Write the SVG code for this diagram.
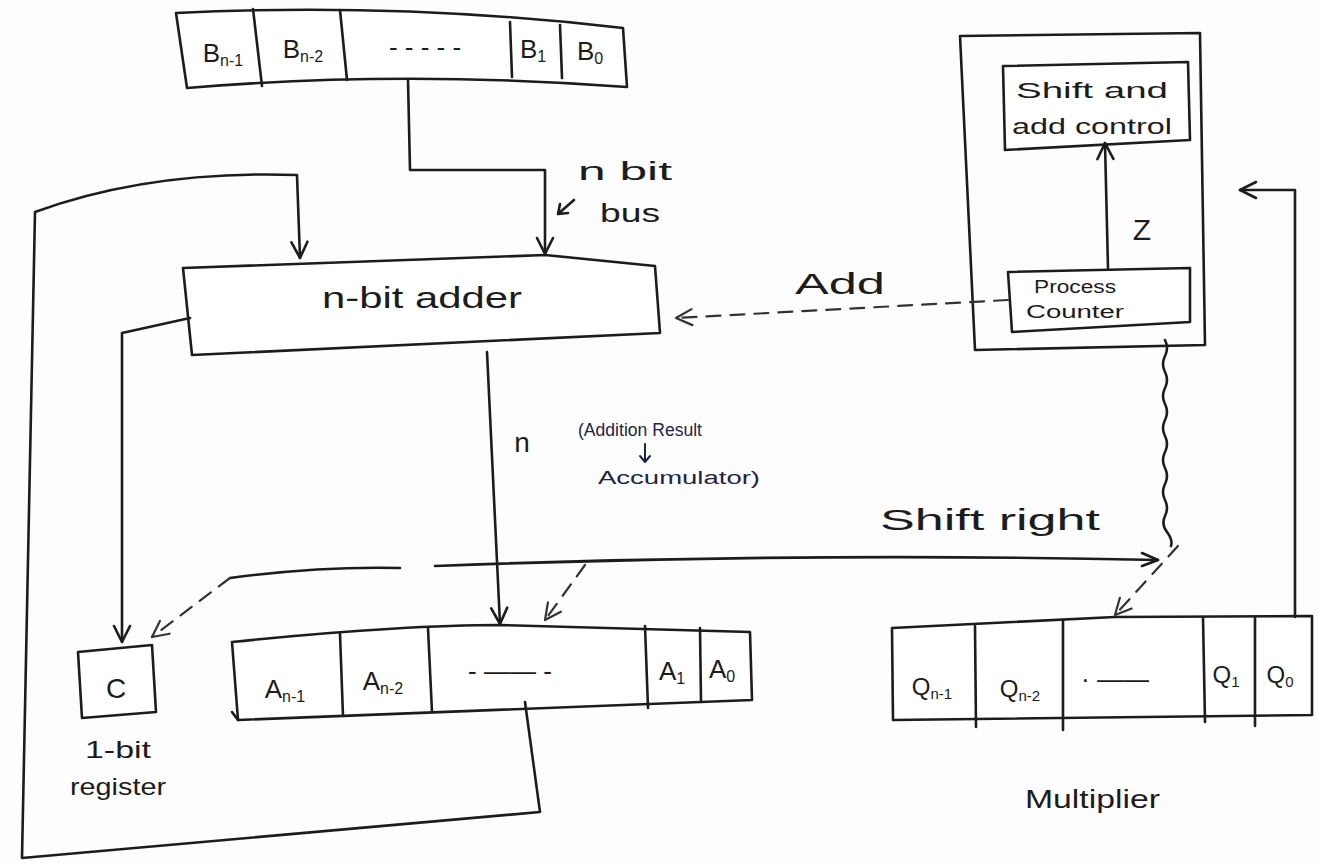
<svg xmlns="http://www.w3.org/2000/svg" width="1318" height="865" viewBox="0 0 1318 865">
<defs>
<style>
.s{fill:none;stroke:#1c1c1c;stroke-width:2.6;stroke-linecap:round;stroke-linejoin:round}
.box{fill:#fff;stroke:#1c1c1c;stroke-width:2.6;stroke-linejoin:round}
.frame{fill:none;stroke:#1c1c1c;stroke-width:2.6;stroke-linejoin:round}
.d{fill:none;stroke:#333;stroke-width:2.2;stroke-dasharray:14 10;stroke-linecap:round}
.t{font-family:"Liberation Sans",Arial,sans-serif;fill:#1c1c1c}
.b{fill:#1d2545}
.bs{fill:none;stroke:#1d2545;stroke-width:2;stroke-linecap:round;stroke-linejoin:round}
</style>
<marker id="ah" viewBox="0 0 20 20" refX="18" refY="10" markerWidth="20" markerHeight="20" markerUnits="userSpaceOnUse" orient="auto">
<path d="M2,2 L18,10 L2,18" fill="none" stroke="#1c1c1c" stroke-width="2.6" stroke-linecap="round" stroke-linejoin="round"/>
</marker>
<marker id="ahg" viewBox="0 0 20 20" refX="18" refY="10" markerWidth="20" markerHeight="20" markerUnits="userSpaceOnUse" orient="auto">
<path d="M2,2 L18,10 L2,18" fill="none" stroke="#333" stroke-width="2.2" stroke-linecap="round" stroke-linejoin="round"/>
</marker>
</defs>
<rect width="1318" height="865" fill="#fdfdfd"/>

<g id="b-register">
<path class="box" d="M176,13 Q400,2 623,28 L627,87 Q400,70 187,88 Z"/>
<path class="s" d="M253,9 L262,86 M340,10 L347,80 M510,22 L512,77 M560,25 L562,78"/>
<text class="t" x="223" y="62" font-size="26" text-anchor="middle">B<tspan font-size="16" dy="4">n-1</tspan></text>
<text class="t" x="303" y="58" font-size="26" text-anchor="middle">B<tspan font-size="16" dy="4">n-2</tspan></text>
<text class="t" x="425" y="56" font-size="26" text-anchor="middle">- - - - -</text>
<text class="t" x="533" y="58" font-size="26" text-anchor="middle">B<tspan font-size="16" dy="4">1</tspan></text>
<text class="t" x="590" y="60" font-size="26" text-anchor="middle">B<tspan font-size="16" dy="4">0</tspan></text>
</g>

<g id="adder">
<path class="box" d="M183,268 L545,255 L655,266 L660,333 L192,355 Z"/>
<text class="t" x="322" y="308" font-size="30" textLength="200" lengthAdjust="spacingAndGlyphs">n-bit adder</text>
</g>

<g id="c-register">
<path class="box" d="M78,652 L152,645 L156,712 L82,718 Z"/>
<text class="t" x="116" y="698" font-size="28" text-anchor="middle">C</text>
<text class="t" x="85" y="758" font-size="24" textLength="66" lengthAdjust="spacingAndGlyphs">1-bit</text>
<text class="t" x="70" y="795" font-size="24" textLength="96" lengthAdjust="spacingAndGlyphs">register</text>
</g>

<g id="a-register">
<path class="box" d="M232,642 Q400,625 500,625 L750,632 L752,700 L238,720 Z"/>
<path class="s" d="M238,720 L232,712"/>
<path class="s" d="M340,634 L343,716 M428,628 L432,712 M645,626 L648,708 M700,628 L701,702"/>
<text class="t" x="285" y="698" font-size="26" text-anchor="middle">A<tspan font-size="16" dy="4">n-1</tspan></text>
<text class="t" x="383" y="690" font-size="26" text-anchor="middle">A<tspan font-size="16" dy="4">n-2</tspan></text>
<text class="t" x="510" y="680" font-size="26" text-anchor="middle">- —— -</text>
<text class="t" x="672" y="680" font-size="26" text-anchor="middle">A<tspan font-size="16" dy="4">1</tspan></text>
<text class="t" x="722" y="678" font-size="26" text-anchor="middle">A<tspan font-size="16" dy="4">0</tspan></text>
</g>

<g id="q-register">
<path class="box" d="M892,628 L1115,617 L1312,616 L1312,715 L893,720 Z"/>
<path class="s" d="M975,626 L976,727 M1063,620 L1063,730 M1203,617 L1205,722 M1255,617 L1255,726"/>
<text class="t" x="932" y="695" font-size="24" text-anchor="middle">Q<tspan font-size="15" dy="4">n-1</tspan></text>
<text class="t" x="1020" y="697" font-size="24" text-anchor="middle">Q<tspan font-size="15" dy="4">n-2</tspan></text>
<text class="t" x="1115" y="688" font-size="26" text-anchor="middle">· ——</text>
<text class="t" x="1226" y="683" font-size="24" text-anchor="middle">Q<tspan font-size="15" dy="4">1</tspan></text>
<text class="t" x="1280" y="683" font-size="24" text-anchor="middle">Q<tspan font-size="15" dy="4">0</tspan></text>
<text class="t" x="1025" y="808" font-size="26" textLength="135" lengthAdjust="spacingAndGlyphs">Multiplier</text>
</g>

<g id="control-unit">
<path class="frame" d="M960,36 L1200,33 L1205,345 L975,350 Z"/>
</g>

<g id="shift-add-control">
<path class="box" d="M1003,66 L1188,62 L1190,140 L1005,150 Z"/>
<text class="t" x="1016" y="98" font-size="22" textLength="152" lengthAdjust="spacingAndGlyphs">Shift and</text>
<text class="t" x="1012" y="134" font-size="22" textLength="160" lengthAdjust="spacingAndGlyphs">add control</text>
</g>

<g id="process-counter">
<path class="box" d="M1008,272 L1190,268 L1190,322 L1012,332 Z"/>
<text class="t" x="1034" y="293" font-size="18" textLength="82" lengthAdjust="spacingAndGlyphs">Process</text>
<text class="t" x="1026" y="318" font-size="18" textLength="98" lengthAdjust="spacingAndGlyphs">Counter</text>
</g>

<g id="connectors">
<path class="s" d="M408,80 L410,170 L545,170 L545,254" marker-end="url(#ah)"/>
<path class="s" d="M525,702 L540,812 L22,858 L35,212 Q150,170 297,175 L300,258" marker-end="url(#ah)"/>
<path class="s" d="M190,318 L122,333 L122,642" marker-end="url(#ah)"/>
<path class="s" d="M487,352 L500,624" marker-end="url(#ah)"/>
<path class="s" d="M1108,268 L1105,143" marker-end="url(#ah)"/>
<path class="s" d="M1295,617 L1295,190 L1240,190" marker-end="url(#ah)"/>
<path class="d" d="M1008,300 L676,318" marker-end="url(#ahg)"/>
<path class="s" d="M1165,340 q4,8 0,16 q-4,8 0,16 q4,8 0,16 q-4,8 0,16 q4,8 0,16 q-4,8 0,16 q4,8 0,16 q-4,8 0,16 q4,8 0,16 q-4,8 0,16 q4,8 0,16 q-4,8 2,16 q6,8 4,14"/>
<path class="s" d="M230,578 Q320,566 400,568 M435,566 Q800,552 1158,560"/>
<path class="s" d="M1142,553 L1158,560 L1142,566"/>
<path class="d" d="M230,578 L152,637" marker-end="url(#ahg)"/>
<path class="d" d="M585,565 L545,620" marker-end="url(#ahg)"/>
<path class="d" d="M1178,546 L1115,615" marker-end="url(#ahg)"/>
</g>

<g id="labels">
<text class="t" x="578" y="180" font-size="26" textLength="94" lengthAdjust="spacingAndGlyphs">n bit</text>
<path class="s" d="M574,200 L558,214 M558,214 L560,204 M558,214 L568,213"/>
<text class="t" x="600" y="222" font-size="26" textLength="60" lengthAdjust="spacingAndGlyphs">bus</text>
<text class="t" x="1142" y="240" font-size="30" text-anchor="middle">Z</text>
<text class="t" x="795" y="294" font-size="30" textLength="90" lengthAdjust="spacingAndGlyphs">Add</text>
<text class="t" x="522" y="452" font-size="28" text-anchor="middle">n</text>
<text class="t b" x="578" y="436" font-size="18" textLength="124" lengthAdjust="spacingAndGlyphs">(Addition Result</text>
<path class="bs" d="M645,444 L645,462 M640,456 L645,462 L650,456"/>
<text class="t b" x="598" y="484" font-size="18" textLength="162" lengthAdjust="spacingAndGlyphs">Accumulator)</text>
<text class="t" x="880" y="530" font-size="30" textLength="220" lengthAdjust="spacingAndGlyphs">Shift right</text>
</g>
</svg>
